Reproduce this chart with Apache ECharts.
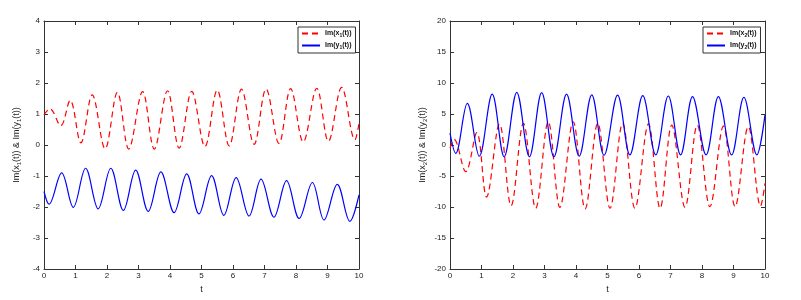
<!DOCTYPE html>
<html>
<head>
<meta charset="utf-8">
<script src="https://cdn.jsdelivr.net/npm/echarts@6/dist/echarts.min.js"></script>
<style>html,body{margin:0;padding:0;background:#fff;}#c{width:801px;height:300px;}</style>
</head>
<body>
<div id="c"></div>
<script>
// Left panel: Im(x1(t)) (red dashed) and Im(y1(t)) (blue solid)
const x1T = [0,0.19,0.53,0.83,1.17,1.53,1.94,2.33,2.69,3.13,3.50,3.92,4.29,4.69,5.11,5.50,5.88,6.27,6.67,7.05,7.46,7.83,8.23,8.66,9.03,9.45,9.87,10];
const x1V = [0.97,1.17,0.62,1.44,0.07,1.62,-0.12,1.70,-0.13,1.72,-0.13,1.75,-0.10,1.73,-0.05,1.77,-0.03,1.80,0.02,1.81,0.05,1.82,0.10,1.83,0.12,1.86,0.17,0.70];
const y1T = [0,0.16,0.56,0.93,1.32,1.72,2.12,2.52,2.91,3.31,3.71,4.13,4.53,4.92,5.32,5.71,6.10,6.51,6.89,7.30,7.70,8.10,8.52,8.89,9.31,9.71,10];
const y1V = [-1.5,-1.91,-0.9,-2.01,-0.75,-2.06,-0.75,-2.11,-0.81,-2.14,-0.87,-2.18,-0.93,-2.22,-0.99,-2.27,-1.05,-2.29,-1.1,-2.33,-1.15,-2.37,-1.21,-2.42,-1.27,-2.46,-1.61];
// Right panel: Im(x2(t)) (red dashed) and Im(y2(t)) (blue solid)
const x2T = [0,0.13,0.50,0.85,1.16,1.57,1.94,2.33,2.72,3.12,3.49,3.91,4.29,4.69,5.08,5.48,5.87,6.30,6.67,7.04,7.46,7.85,8.25,8.68,9.05,9.47,9.86,10];
const x2V = [-0.5,0.9,-4.3,2.0,-8.4,3.4,-9.8,3.5,-10.2,3.75,-10.05,3.75,-10.3,3.5,-10.2,3.5,-10.2,3.4,-10.2,3.2,-10.05,3.2,-9.95,3.05,-9.95,2.95,-9.85,-6.2];
const y2T = [0,0.18,0.55,0.93,1.34,1.72,2.12,2.52,2.91,3.30,3.70,4.10,4.50,4.89,5.32,5.71,6.12,6.53,6.93,7.32,7.70,8.13,8.52,8.94,9.33,9.74,10];
const y2V = [1.9,-1.35,6.7,-1.8,8.2,-1.9,8.5,-1.9,8.45,-1.9,8.2,-1.8,8.1,-1.65,8.05,-1.6,7.95,-1.6,7.9,-1.6,7.8,-1.6,7.8,-1.6,7.7,-1.6,4.85];

const xTicks = [0,10,1];
const leftY = [-4,4,1];
const rightY = [-20,20,5];

function zip(t, v){ return t.map((x,i)=>[x, v[i]]); }

const FONT = 'Liberation Sans, Arial, sans-serif';
const lineCol = '#333';
const labCol = '#222';

function axisLine(){ return {show:true, onZero:false, lineStyle:{color:lineCol, width:1}}; }
function axisTick(){ return {show:true, inside:true, length:4, lineStyle:{color:lineCol}}; }

function bottomX(gi){
  return {gridIndex:gi, type:'value', position:'bottom', min:xTicks[0], max:xTicks[1], interval:xTicks[2],
    name:'t', nameLocation:'middle', nameGap:15,
    nameTextStyle:{fontFamily:FONT, fontSize:9, color:labCol},
    axisLine:axisLine(), axisTick:axisTick(),
    axisLabel:{fontFamily:FONT, fontSize:8, color:labCol, margin:3},
    splitLine:{show:false}};
}
function topX(gi){
  return {gridIndex:gi, type:'value', position:'top', min:xTicks[0], max:xTicks[1], interval:xTicks[2],
    axisLine:axisLine(), axisTick:axisTick(),
    axisLabel:{show:false}, splitLine:{show:false}};
}
function leftYAxis(gi, r, n){
  return {gridIndex:gi, type:'value', position:'left', min:r[0], max:r[1], interval:r[2],
    name:'Im(x{s|'+n+'}(t)) & Im(y{s|'+n+'}(t))', nameLocation:'middle', nameGap:22, nameRotate:90,
    nameTextStyle:{fontFamily:FONT, fontSize:9, color:labCol,
      rich:{s:{fontFamily:FONT, fontSize:6, color:labCol, padding:[5,0,0,0]}}},
    axisLine:axisLine(), axisTick:axisTick(),
    axisLabel:{fontFamily:FONT, fontSize:8, color:labCol, margin:4},
    splitLine:{show:false}};
}
function rightYAxis(gi, r){
  return {gridIndex:gi, type:'value', position:'right', min:r[0], max:r[1], interval:r[2],
    axisLine:axisLine(), axisTick:axisTick(),
    axisLabel:{show:false}, splitLine:{show:false}};
}
function legend(names, left){
  return {data:names, orient:'vertical', left:left, top:27, itemWidth:18, itemHeight:6, itemGap:4,
    padding:[3,4,3,3], borderColor:'#333', borderWidth:1, backgroundColor:'#fff',
    itemStyle:{opacity:0},
    formatter: function(n){ return n.replace(/_(\d)/, '{s|$1}'); },
    textStyle:{fontFamily:FONT, fontSize:7, color:'#111', fontWeight:'bold',
      rich:{s:{fontFamily:FONT, fontSize:5, color:'#111', fontWeight:'bold', padding:[4,0,0,0]}}}};
}
function ser(name, xi, yi, data, color, dashed){
  return {name:name, type:'line', xAxisIndex:xi, yAxisIndex:yi, data:data, smooth:0.36,
    symbol:'none', showSymbol:false, animation:false,
    lineStyle:{color:color, width:1.2, type: dashed ? [6,4] : 'solid'},
    itemStyle:{color:color}};
}

const n1 = 'Im(x_1(t))', n2 = 'Im(y_1(t))', n3 = 'Im(x_2(t))', n4 = 'Im(y_2(t))';
const option = {
  backgroundColor:'#fff',
  animation:false,
  grid:[{left:44, top:21, width:315, height:248}, {left:450, top:21, width:315, height:248}],
  xAxis:[bottomX(0), topX(0), bottomX(1), topX(1)],
  yAxis:[leftYAxis(0, leftY, 1), rightYAxis(0, leftY), leftYAxis(1, rightY, 2), rightYAxis(1, rightY)],
  legend:[legend([n1,n2], 298), legend([n3,n4], 703)],
  series:[
    ser(n1, 0, 0, zip(x1T, x1V), '#ff0000', true),
    ser(n2, 0, 0, zip(y1T, y1V), '#0000ff', false),
    ser(n3, 2, 2, zip(x2T, x2V), '#ff0000', true),
    ser(n4, 2, 2, zip(y2T, y2V), '#0000ff', false)
  ]
};
const chart = echarts.init(document.getElementById('c'), null, {renderer:'canvas'});
chart.setOption(option);
</script>
</body>
</html>
